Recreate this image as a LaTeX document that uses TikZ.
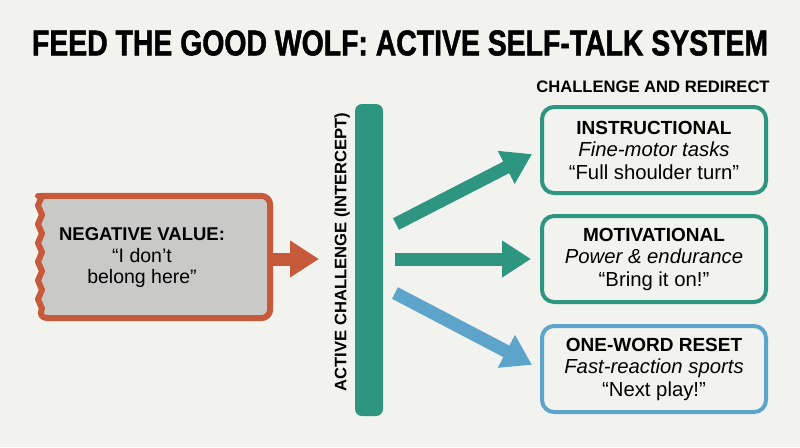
\documentclass[tikz,border=0pt]{standalone}
\usepackage{fontspec}
\setmainfont{Liberation Sans}
\newfontfamily\heavyfont[BoldFeatures={FakeBold=1.6}]{Liberation Sans}
\usetikzlibrary{positioning,arrows.meta,calc}
\definecolor{bgcol}{HTML}{F2F2EE}
\definecolor{wolfteal}{HTML}{2E9581}
\definecolor{wolfblue}{HTML}{5CA4C9}
\definecolor{wolfred}{HTML}{C65A3B}
\definecolor{wolfgray}{HTML}{C9C9C8}
\newcommand{\boxhead}[1]{{\fontsize{19}{22}\selectfont\bfseries #1}}
\tikzset{
  redirect/.style={draw=#1, line width=4pt, rounded corners=12pt, fill=bgcol,
    minimum width=224pt, minimum height=86pt, align=center,
    font=\fontsize{20.3}{22.5}\selectfont},
  fat/.style={line width=13pt, -{Triangle[length=29pt,width=35pt]}},
}

\begin{document}
\begin{tikzpicture}[x=1pt,y=-1pt]
	\fill[bgcol] (0,0) rectangle (800,447);
	\useasboundingbox (0,0) rectangle (800,447);
	% title
	\node (title) at (400,43) {\resizebox{736pt}{25pt}{\heavyfont\bfseries FEED THE GOOD WOLF: ACTIVE SELF-TALK SYSTEM}};
	% negative value box, torn on the left
	\node[minimum width=232pt, minimum height=122pt, inner sep=0] (negbox) at (154,257) {};
	\draw[wolfred, line width=6pt, fill=wolfgray, line join=round]
		(38,196) [rounded corners=9pt] -- (negbox.north east) -- (negbox.south east) -- (38,318) [sharp corners]
		\foreach \k in {1,...,13} { -- ({38+4*mod(\k,2)},{318-\k*9.38}) } -- cycle;
	\node[align=center, font=\fontsize{19.5}{21.5}\selectfont] (neg) at (142,258)
		{{\fontsize{18.5}{21.5}\selectfont\bfseries NEGATIVE VALUE:}\\“I don’t\\belong here”};
	\coordinate (negtip) at (319,259);
	\draw[fat, wolfred] (negbox.east |- negtip) -- (negtip);
	% intercept bar
	\node[fill=wolfteal, rounded corners=7pt, minimum width=28pt, minimum height=312pt, inner sep=0] (bar) at (369,260) {};
	\node[rotate=90, font=\bfseries\fontsize{16.6}{16.6}\selectfont] (barlabel) at (342,252) {ACTIVE CHALLENGE (INTERCEPT)};
	% redirect boxes
	\node[font=\bfseries\fontsize{16.6}{16.6}\selectfont] (head) at (653,87) {CHALLENGE AND REDIRECT};
	\node[redirect=wolfteal] (instr) at (654,150) {\boxhead{INSTRUCTIONAL}\\\textit{Fine-motor tasks}\\“Full shoulder turn”};
	\node[redirect=wolfteal] (motiv) at (654,259) {\boxhead{MOTIVATIONAL}\\\textit{Power \& endurance}\\“Bring it on!”};
	\node[redirect=wolfblue] (reset) at (654,369) {\boxhead{ONE-WORD RESET}\\\textit{Fast-reaction sports}\\“Next play!”};
	% arrows out of the bar
	\coordinate (s1) at (396,224);
	\coordinate (s2) at (395,259);
	\coordinate (s3) at (395,293);
	\draw[fat, wolfteal, shorten >=9pt] (s1) -- (instr.west);
	\draw[fat, wolfteal, shorten >=9pt] (s2) -- (motiv.west);
	\draw[fat, wolfblue, shorten >=9pt] (s3) -- (reset.west);
\end{tikzpicture}
\end{document}
